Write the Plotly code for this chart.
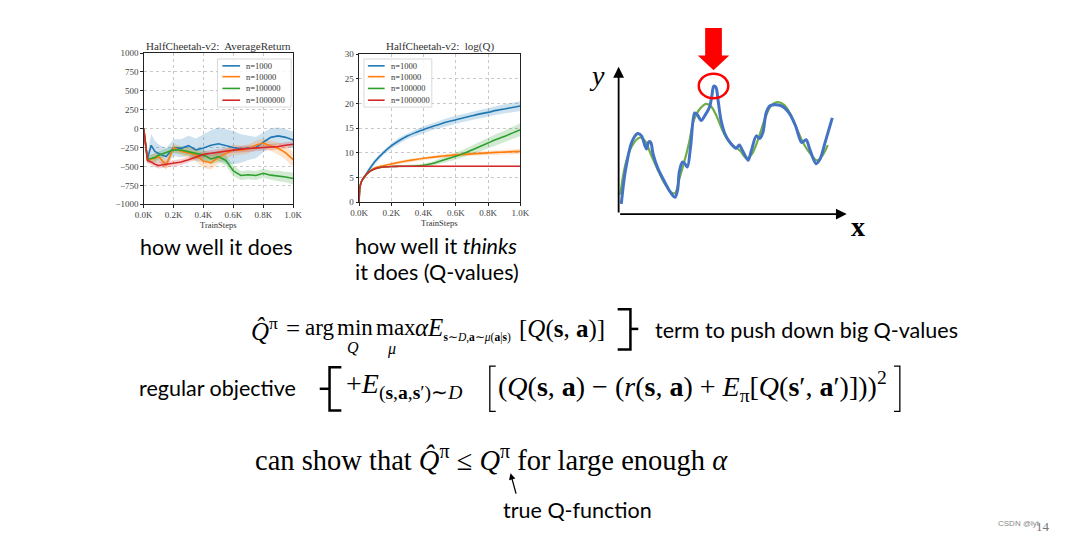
import plotly.graph_objects as go

W, H = 1076, 542

# ---------------- data: chart 1 (AverageReturn) ----------------
ret_steps = [0, 25, 50, 75, 100, 150, 200, 250, 300, 350, 400, 450, 500, 550,
             600, 650, 700, 750, 800, 850, 900, 950, 1000]
ret_n1000 = [0, -400, -220, -300, -330, -370, -250, -260, -225, -280, -255, -220,
             -200, -230, -250, -265, -255, -250, -180, -115, -95, -115, -150]
ret_n10000 = [0, -420, -400, -390, -370, -480, -250, -300, -320, -350, -430, -450,
              -380, -330, -280, -285, -270, -220, -190, -230, -260, -320, -410]
ret_n100000 = [0, -400, -395, -380, -350, -310, -278, -282, -305, -330, -350, -400,
               -370, -420, -560, -620, -610, -620, -590, -615, -625, -640, -660]
ret_n1000000 = [0, -420, -440, -470, -487, -470, -460, -440, -410, -370, -340, -325,
                -310, -295, -280, -270, -262, -255, -250, -245, -235, -220, -205]
ret_sd_n1000 = [0, 60, 150, 140, 120, 110, 110, 120, 130, 150, 180, 200, 220, 230,
                220, 190, 160, 140, 130, 120, 110, 110, 110]
ret_sd_n10000 = [0, 40, 60, 60, 60, 70, 60, 60, 70, 80, 90, 90, 80, 70, 70, 60, 60,
                 60, 60, 70, 80, 90, 100]
ret_sd_n100000 = [0, 40, 50, 50, 50, 50, 50, 50, 60, 60, 70, 70, 70, 70, 70, 60, 60,
                  60, 60, 60, 70, 70, 80]
ret_sd_n1000000 = [0, 30, 40, 40, 40, 40, 40, 40, 40, 40, 40, 40, 40, 40, 40, 40,
                   40, 40, 40, 40, 40, 40, 40]

# ---------------- data: chart 2 (log Q) ----------------
q_steps = [0, 5, 15, 30, 50, 75, 100, 150, 200, 250, 300, 350, 400, 450, 500, 550,
           600, 650, 700, 750, 800, 850, 900, 950, 1000]
q_n1000 = [0, 3.0, 4.2, 5.0, 6.0, 7.2, 8.3, 10.0, 11.4, 12.5, 13.4, 14.1, 14.7, 15.3,
           15.8, 16.3, 16.7, 17.1, 17.5, 17.9, 18.2, 18.6, 18.9, 19.2, 19.5]
q_n10000 = [0, 3.0, 4.2, 5.0, 5.8, 6.5, 7.0, 7.4, 7.75, 8.1, 8.4, 8.65, 8.9, 9.1,
            9.3, 9.45, 9.6, 9.7, 9.8, 9.9, 10.0, 10.1, 10.15, 10.25, 10.3]
q_n100000 = [0, 3.0, 4.2, 5.0, 5.8, 6.4, 6.8, 7.15, 7.25, 7.3, 7.3, 7.35, 7.5, 7.8,
             8.3, 8.8, 9.3, 9.9, 10.6, 11.3, 12.0, 12.7, 13.3, 14.0, 14.7]
q_n1000000 = [0, 3.0, 4.2, 5.0, 5.8, 6.4, 6.8, 7.15, 7.25, 7.3, 7.3, 7.3, 7.3, 7.3,
              7.3, 7.3, 7.3, 7.3, 7.3, 7.3, 7.3, 7.3, 7.3, 7.3, 7.3]
q_sd_n1000 = [0, .2, .3, .4, .5, .5, .5, .5, .55, .6, .6, .65, .7, .7, .75, .75, .8,
              .8, .85, .85, .9, .9, .95, .95, 1.0]
q_sd_n10000 = [0, .1, .15, .2, .2, .2, .2, .25, .25, .3, .3, .3, .35, .35, .35, .4,
               .4, .4, .4, .45, .45, .45, .5, .5, .5]
q_sd_n100000 = [0, .1, .1, .1, .1, .1, .1, .1, .1, .1, .15, .2, .3, .4, .5, .6, .7,
                .8, .9, 1.0, 1.05, 1.1, 1.2, 1.25, 1.3]
q_sd_n1000000 = [0, .1, .1, .1, .1, .1, .1, .1, .1, .1, .1, .1, .1, .1, .1, .1, .1,
                 .1, .1, .1, .1, .1, .1, .1, .1]

series_names = ["n=1000", "n=10000", "n=100000", "n=1000000"]
series_colors = ["#1f77b4", "#ff7f0e", "#2ca02c", "#d62728"]
band_colors = ["rgba(31,119,180,0.22)", "rgba(255,127,14,0.22)",
               "rgba(44,160,44,0.22)", "rgba(214,39,40,0.22)"]
k_ticks = [0, 200, 400, 600, 800, 1000]
k_labels = ["0.0K", "0.2K", "0.4K", "0.6K", "0.8K", "1.0K"]
ret_ticks = [1000, 750, 500, 250, 0, -250, -500, -750, -1000]
ret_labels = ["1000", "750", "500", "250", "0", "\u2212250", "\u2212500", "\u2212750", "\u22121000"]
q_ticks = [0, 5, 10, 15, 20, 25, 30]

# ---------------- data: sketch (function fit) ----------------
fit_x = [2.7, 6.7, 13.3, 19.3, 23.3, 26.7, 28.3, 30.7, 32.7, 35, 40, 46.7, 53.3, 57.3,
         60, 61.7, 65, 67.3, 70, 73.3, 77.3, 80, 84, 88.3, 92.7, 94.7, 96.7, 99, 101.3,
         104, 108.3, 113.3, 119.3, 122.7, 126, 131.7, 135, 140, 143.3, 146.7, 150, 154,
         160, 166.7, 173.3, 180, 186, 190.7, 194.3, 200.7, 205, 210, 217.3]
fit_y = [10.3, 43, 73, 82, 79.7, 69.7, 66.3, 73.7, 73, 61.3, 46.3, 33, 21.3, 17,
         24.7, 43, 53, 51.3, 48, 69.7, 103, 101.3, 95.3, 101.3, 109.7, 119.7, 130.3, 129,
         114.7, 96.3, 81.3, 73, 67, 70.3, 64.7, 54.7, 64.7, 79.7, 77, 83, 103, 110.3,
         111.3, 109.7, 103, 89.7, 73, 75.7, 66.3, 51.3, 56.3, 73, 98]
true_x = [1.7, 6.7, 13.3, 21.7, 26.7, 33.3, 40, 46.7, 53.3, 57.3, 61.7, 66.7, 71.7,
          76.7, 83.3, 89.3, 94, 100, 106.7, 113.3, 123.3, 130, 135, 141.7, 148.3, 155,
          161.7, 168.3, 175, 181.7, 188.3, 195, 201.7, 207.3, 212.7]
true_y = [19.7, 49.7, 69, 78, 74.7, 59.7, 44.7, 31.3, 22, 21.3, 35.7, 53, 73, 96.3,
          108, 112.3, 109.7, 99, 83, 72.3, 64.7, 57, 60.3, 75.7, 95.7, 110.3, 114, 111.3,
          101.3, 85.7, 71.3, 61.3, 54.7, 59.7, 70.3]
peak_x, peak_y = 96.5, 130.5


def P(x, y):
    return x / W, 1 - y / H


fig = go.Figure()

# chart 1
ret_series = [ret_n1000, ret_n10000, ret_n100000, ret_n1000000]
ret_sds = [ret_sd_n1000, ret_sd_n10000, ret_sd_n100000, ret_sd_n1000000]
for m, s, c in zip(ret_series, ret_sds, band_colors):
    up = [a + b for a, b in zip(m, s)]
    lo = [a - b for a, b in zip(m, s)]
    fig.add_trace(go.Scatter(x=ret_steps + ret_steps[::-1], y=up + lo[::-1], fill="toself",
                             fillcolor=c, line=dict(width=0), mode="lines",
                             hoverinfo="skip", showlegend=False, xaxis="x", yaxis="y"))
for m, n, c in zip(ret_series, series_names, series_colors):
    fig.add_trace(go.Scatter(x=ret_steps, y=m, mode="lines", name=n, showlegend=False,
                             line=dict(color=c, width=1.6), xaxis="x", yaxis="y"))

# chart 2
q_series = [q_n1000, q_n10000, q_n100000, q_n1000000]
q_sds = [q_sd_n1000, q_sd_n10000, q_sd_n100000, q_sd_n1000000]
for m, s, c in zip(q_series, q_sds, band_colors):
    up = [a + b for a, b in zip(m, s)]
    lo = [max(0, a - b) for a, b in zip(m, s)]
    fig.add_trace(go.Scatter(x=q_steps + q_steps[::-1], y=up + lo[::-1], fill="toself",
                             fillcolor=c, line=dict(width=0), mode="lines",
                             hoverinfo="skip", showlegend=False, xaxis="x2", yaxis="y2"))
for m, n, c in zip(q_series, series_names, series_colors):
    fig.add_trace(go.Scatter(x=q_steps, y=m, mode="lines", name=n, showlegend=False,
                             line=dict(color=c, width=1.6, shape="spline", smoothing=0.6),
                             xaxis="x2", yaxis="y2"))

# sketch
fig.add_trace(go.Scatter(x=true_x, y=true_y, mode="lines", showlegend=False,
                         line=dict(color="#70AD47", width=2.2, shape="spline", smoothing=1.0),
                         xaxis="x3", yaxis="y3"))
fig.add_trace(go.Scatter(x=fit_x, y=fit_y, mode="lines", showlegend=False,
                         line=dict(color="#4472C4", width=3, shape="spline", smoothing=0.8),
                         xaxis="x3", yaxis="y3"))

serif = "Liberation Serif"
sans = "Lato"
tickfont = dict(family=serif, size=9, color="#444")
ax_common = dict(showline=True, linecolor="#222", linewidth=0.8, mirror=True,
                 ticks="outside", ticklen=2.5, tickcolor="#222", showgrid=True,
                 gridcolor="#c8c8c8", griddash="dot", gridwidth=0.7, zeroline=False,
                 tickfont=tickfont)

fig.update_layout(
    width=W, height=H, margin=dict(l=0, r=0, t=0, b=0),
    paper_bgcolor="white", plot_bgcolor="white", showlegend=False,
    xaxis=dict(domain=[137 / W, 289 / W], range=[0, 1000], tickvals=k_ticks,
               ticktext=k_labels, anchor="y", **ax_common),
    yaxis=dict(domain=[1 - 203 / H, 1 - 49 / H], range=[-1000, 1000], tickvals=ret_ticks,
               ticktext=ret_labels, anchor="x", **ax_common),
    xaxis2=dict(domain=[356 / W, 520 / W], range=[0, 1000], tickvals=k_ticks,
                ticktext=k_labels, anchor="y2", **ax_common),
    yaxis2=dict(domain=[1 - 201 / H, 1 - 50 / H], range=[0, 30], tickvals=q_ticks,
                anchor="x2", **ax_common),
    xaxis3=dict(domain=[617 / W, 855 / W], range=[-3, 235], visible=False, anchor="y3"),
    yaxis3=dict(domain=[1 - 216 / H, 1 - 20 / H], range=[-3, 193], visible=False, anchor="x3"),
)

ann = []
shapes = []


def text(x, y, t, size, family=sans, xanchor="left", color="black"):
    px_, py_ = P(x, y)
    ann.append(dict(x=px_, y=py_, xref="paper", yref="paper", text=t, showarrow=False,
                    xanchor=xanchor, yanchor="middle", borderpad=0,
                    font=dict(family=family, size=size, color=color)))


def pp(x, y):
    a, b = P(x, y)
    return f"{a} {b}"


def poly(pts, color="black", width=2.5):
    shapes.append(dict(type="path", xref="paper", yref="paper",
                       path="M " + " L ".join(pp(x, y) for x, y in pts),
                       line=dict(color=color, width=width)))


def legend_box(x0, y0, x1, y1, rows, lx0, lx1, tx):
    a0, b0 = P(x0, y0)
    a1, b1 = P(x1, y1)
    shapes.append(dict(type="rect", xref="paper", yref="paper", x0=a0, x1=a1, y0=b1, y1=b0,
                       fillcolor="rgba(255,255,255,0.85)",
                       line=dict(color="#cfcfcf", width=0.8)))
    for ry, n, c in zip(rows, series_names, series_colors):
        poly([(lx0, ry), (lx1, ry)], c, 1.6)
        text(tx, ry, n, 8.5, serif, "left", "#333")


# chart titles / labels
text(213, 42, "HalfCheetah-v2:  AverageReturn", 11, serif, "center", "#333")
text(213, 224, "TrainSteps", 8.5, serif, "center", "#333")
text(438, 42, "HalfCheetah-v2:  log(Q)", 11, serif, "center", "#333")
text(438, 222, "TrainSteps", 8.5, serif, "center", "#333")
legend_box(212, 55, 287, 104, [62, 73, 85, 97], 217, 235, 240)
legend_box(361, 55, 430, 104, [62, 73, 85, 97], 365, 382, 387)

# captions
text(132, 247, "how well it does", 21.5)
text(351, 246, "how well it <i>thinks</i>", 21.5)
text(351, 272, "it does (Q-values)", 21.5)

# sketch labels
text(598, 72, "<i>y</i>", 28, serif, "center")
text(863, 226, "<b>x</b>", 28, serif, "center")

# equation line 1
M = 25
S = 23
text(245, 330, "<i>Q\u0302</i><sup>\u03c0</sup>", M, serif)
text(281, 330, "=", M, serif)
text(300, 329, "arg", S, serif)
text(333, 329, "min", S, serif)
text(350, 349, "<i>Q</i>", 16, serif, "center")
text(372, 329, "max", S, serif)
text(389, 350, "<i>\u03bc</i>", 16, serif, "center")
text(412, 330, "<i>\u03b1E</i><sub><span style='font-size:11.5px'><b>s</b>\u223c<i>D</i>,"
     "<b>a</b>\u223c<i>\u03bc</i>(<b>a</b>|<b>s</b>)</span></sub>", M, serif)
text(518, 330, "[<i>Q</i>(<b>s</b>, <b>a</b>)]", M, serif)
text(656, 331, "term to push down big Q-values", 21.5)

# equation line 2
E = 28
text(131, 390, "regular objective", 21.5)
text(342, 388, "+<i>E</i><sub>(<b>s</b>,<b>a</b>,<b>s</b>\u2032)\u223c<i>D</i></sub>", E, serif)
text(496, 389, "(<i>Q</i>(<b>s</b>, <b>a</b>) \u2212 (<i>r</i>(<b>s</b>, <b>a</b>) + "
     "<i>E</i><sub>\u03c0</sub>[<i>Q</i>(<b>s</b>\u2032, <b>a</b>\u2032)]))<sup>2</sup>", E, serif)

# line 3
text(249, 462, "can show that <i>Q\u0302</i><sup>\u03c0</sup> \u2264 <i>Q</i><sup>\u03c0</sup>"
     " for large enough <i>\u03b1</i>", 28.5, serif)
text(501, 515, "true Q-function", 21.5)
text(1027, 528, "CSDN @lyt", 8, "Liberation Sans", "center", "#888")
text(1052, 531, "14", 13, serif, "center", "#777")

# arrow to true Q
tx, ty = P(510, 477)
ann.append(dict(x=tx, y=ty, xref="paper", yref="paper", ax=6, ay=22, showarrow=True,
                arrowhead=2, arrowsize=1, arrowwidth=1.3, arrowcolor="black", text=""))

# sketch axes arrows
ann.append(dict(x=0, y=150, ax=0, ay=0, xref="x3", yref="y3", axref="x3", ayref="y3",
                showarrow=True, arrowhead=2, arrowsize=1.2, arrowwidth=1.8,
                arrowcolor="black", text=""))
ann.append(dict(x=232, y=0, ax=0, ay=0, xref="x3", yref="y3", axref="x3", ayref="y3",
                showarrow=True, arrowhead=2, arrowsize=1.2, arrowwidth=1.8,
                arrowcolor="black", text=""))

# red circle around fitted peak
shapes.append(dict(type="circle", xref="x3", yref="y3", x0=peak_x - 15, x1=peak_x + 15,
                   y0=peak_y - 12.5, y1=peak_y + 12.5, line=dict(color="red", width=2.5)))
# red down arrow (x3/y3 units relative to peak)
ax_, tip = peak_x, peak_y + 16
shapes.append(dict(type="path", xref="x3", yref="y3",
                   path=f"M {ax_-8.5} {tip+43} L {ax_+8.5} {tip+43} L {ax_+8.5} {tip+15} "
                        f"L {ax_+16} {tip+15} L {ax_} {tip} L {ax_-16} {tip+15} "
                        f"L {ax_-8.5} {tip+15} Z",
                   fillcolor="red", line=dict(color="red", width=0)))

# } for line 1
poly([(619, 310), (632, 310), (632, 351), (619, 351)])
poly([(632, 330), (640, 330)])
# { for line 2
poly([(338, 369), (326, 369), (326, 413), (338, 413)])
poly([(326, 391), (316, 391)])
# big [ ] for line 2
poly([(495, 368), (489, 368), (489, 414), (495, 414)], width=1.3)
poly([(900, 368), (906, 368), (906, 414), (900, 414)], width=1.3)

fig.update_layout(annotations=ann, shapes=shapes)
fig.write_html("out.html")
